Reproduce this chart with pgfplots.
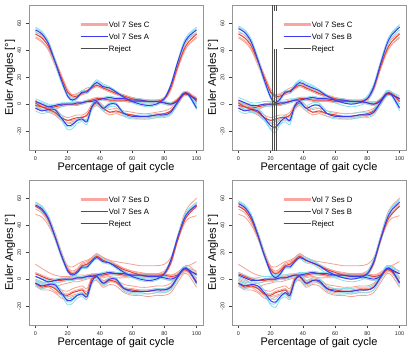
\documentclass[border=0pt]{standalone}
\usepackage{fontspec}
\setmainfont{Liberation Sans}
\usepackage{pgfplots}
\usepackage{pgfplotstable}
\pgfplotsset{compat=1.18}

\definecolor{meanred}{RGB}{235,62,48}
\definecolor{meanblue}{RGB}{58,58,240}
\definecolor{trialred}{RGB}{246,160,145}
\definecolor{trialcyan}{RGB}{135,222,235}
\definecolor{legred}{RGB}{250,165,160}
\definecolor{rejectgray}{RGB}{75,75,75}
\definecolor{boxgray}{RGB}{150,150,150}

% Session A (blue)
\pgfplotstableread{
x f m l f1 f2 f3 m1 m2 m3 l1 l2 l3
0 55 2 -3 57 54 56 4 0 2 -1 -5 -2
4 52 0 -5 54 50 53 2 -2 1 -3 -7 -4
8 45 -2 -4 47 43 46 0 -4 -1 -2 -6 -5
12 32 -1 -4 34 30 33 0 -3 -2 -3 -6 -5
16 18 0 -10 19 16 20 1 -2 0 -8 -12 -11
20 6 0 -16 6 5 8 1 -1 1 -14 -19 -17
23 3 0 -15 3 2 4 1 -1 1 -14 -18 -16
26 5 1 -12 5 4 6 2 0 2 -11 -14 -12
29 9 1 -11 10 8 10 2 0 1 -10 -13 -12
32 9 2 -13 10 8 9 3 1 2 -12 -15 -11
35 13 2 -2 14 12 13 3 1 3 -1 -4 -2
38 16 3 2 18 15 17 4 2 3 3 0 1
42 13 4 -3 15 12 14 5 3 4 -2 -5 -4
46 12 5 0 13 11 12 6 4 4 1 -2 -1
50 9 4 0 10 8 9 5 3 4 1 -2 0
55 5 4 -7 6 4 5 5 3 4 -6 -9 -8
60 2 3 -9 3 1 2 4 2 4 -8 -11 -10
65 0 3 -9 1 -1 1 4 2 3 -8 -11 -10
70 -1 2 -9 0 -2 -1 3 1 3 -8 -11 -9
75 0 2 -8 1 -1 0 3 1 2 -7 -10 -9
80 4 1 -8 5 3 4 2 0 2 -7 -10 -9
84 14 0 -6 15 13 14 1 -1 1 -5 -8 -7
88 30 2 1 31 28 30 3 1 3 2 -1 0
92 44 8 8 46 42 45 9 7 9 9 7 8
95 50 7 7 52 49 51 8 6 7 8 6 7
100 55 -3 3 57 53 56 -1 -4 -2 4 1 3
}\tA

% Session B (blue)
\pgfplotstableread{
x f m l f1 f2 f3 m1 m2 m3 l1 l2 l3
0 56 3 -3 58 54 57 5 1 2 -1 -5 -2
4 53 1 -5 55 51 54 3 -1 1 -3 -7 -4
8 46 -1 -4 48 44 47 1 -3 0 -2 -6 -5
12 33 -1 -5 35 31 34 1 -3 -1 -3 -7 -6
16 18 0 -10 20 16 19 2 -2 0 -8 -12 -11
20 5 0 -16 6 4 7 2 -2 1 -14 -19 -18
23 1 0 -17 2 0 3 2 -1 1 -15 -21 -18
26 4 1 -13 5 3 6 3 0 2 -11 -15 -14
29 9 1 -10 10 8 10 3 0 1 -8 -13 -11
32 9 2 -12 10 8 10 4 1 2 -10 -15 -13
35 13 3 -1 15 12 14 4 2 3 0 -3 -2
38 16 3 2 18 15 17 5 2 3 4 0 2
42 14 4 -3 16 12 15 5 3 4 -1 -5 -3
46 12 5 -1 14 11 13 6 4 5 1 -3 -1
50 10 4 -1 11 8 10 5 3 4 1 -3 0
55 6 4 -7 7 4 6 5 3 4 -5 -9 -7
60 3 3 -9 4 1 3 4 2 3 -7 -11 -9
65 1 3 -9 2 -1 1 4 2 3 -7 -11 -10
70 0 2 -9 1 -2 0 3 1 3 -7 -11 -10
75 1 2 -8 2 -1 1 3 1 2 -6 -10 -9
80 4 1 -8 6 2 5 2 0 2 -6 -10 -8
84 13 0 -6 15 11 14 2 -1 1 -4 -8 -6
88 29 2 1 31 27 30 3 1 3 3 -1 1
92 44 8 8 46 42 45 10 6 9 10 6 8
95 51 7 7 53 49 52 9 6 8 9 6 7
100 57 -3 4 59 55 58 0 -5 -2 6 2 4
}\tB

% Session C (red)
\pgfplotstableread{
x f m l f1 f2 f3 m1 m2 m3 l1 l2 l3
0 52 1 -1 50 53 49 3 -1 2 1 -3 0
4 49 -2 -2 47 51 46 0 -4 -1 0 -4 -2
8 43 -3 -4 41 45 40 -1 -5 -2 -2 -6 -5
12 32 -2 -6 31 34 29 -1 -4 -1 -4 -8 -7
16 20 -1 -10 19 22 18 0 -2 0 -8 -12 -11
20 9 0 -12 9 11 8 1 -1 0 -10 -14 -12
23 6 0 -11 7 7 5 1 -1 0 -9 -13 -12
26 6 0 -10 8 7 5 1 -1 1 -8 -12 -11
29 8 1 -10 10 9 7 2 0 2 -8 -12 -9
32 10 2 -8 12 10 8 3 1 2 -6 -11 -9
35 12 3 -2 13 13 11 4 2 3 0 -4 -3
38 14 4 1 15 15 13 5 3 4 3 -1 0
42 12 4 -3 13 13 11 5 3 4 -1 -5 -3
46 10 3 -6 11 11 9 4 2 3 -4 -8 -6
50 8 3 -5 9 8 7 4 2 3 -3 -7 -6
55 6 3 -7 7 6 5 4 2 3 -5 -9 -7
60 4 2 -8 5 4 3 3 1 2 -6 -10 -8
65 3 2 -9 4 3 2 3 1 2 -7 -11 -10
70 2 2 -9 3 2 1 3 1 2 -7 -11 -10
75 2 2 -8 3 2 1 3 1 2 -6 -10 -9
80 4 1 -7 5 4 3 2 0 1 -5 -9 -8
84 12 0 -5 12 13 10 1 -1 0 -3 -7 -6
88 27 3 1 26 28 25 4 2 3 3 -1 0
92 40 8 7 38 42 38 9 7 8 9 6 7
95 46 8 7 44 48 44 9 7 8 8 6 7
100 52 2 4 50 53 49 4 0 3 5 2 3
}\tC

% Session D (red)
\pgfplotstableread{
x f m l f1 f2 f3 f4 m1 m2 m3 m4 l1 l2 l3 l4
0 54 4 -3 48 57 52 55 11 2 5 -1 0 -5 -2 -4
4 51 2 -6 46 54 49 52 8 0 3 -3 -2 -8 -5 -7
8 44 0 -5 40 47 42 45 5 -3 1 -5 -3 -8 -4 -6
12 32 -1 -7 30 35 31 33 3 -3 0 -6 -5 -10 -6 -9
16 18 -1 -11 18 21 18 19 2 -2 0 -4 -8 -14 -10 -12
20 7 0 -12 10 9 8 7 2 -1 1 -3 -9 -15 -11 -13
23 4 0 -10 9 6 5 3 2 -1 1 -2 -7 -13 -9 -12
26 6 1 -9 11 8 7 5 3 0 2 -2 -6 -12 -8 -11
29 10 1 -8 13 12 11 9 3 0 2 -1 -5 -11 -7 -10
32 11 2 -11 14 13 12 10 3 1 3 0 -7 -14 -9 -13
35 14 3 0 16 16 15 13 4 2 3 1 2 -3 1 -1
38 17 3 2 18 19 18 16 4 2 4 1 4 -1 3 1
42 14 3 -3 16 16 16 13 4 2 4 1 -1 -6 -2 -4
46 12 4 -1 14 14 13 12 5 3 5 2 1 -4 0 -2
50 10 4 -2 13 11 11 9 5 3 5 1 0 -5 -1 -3
55 7 3 -7 12 8 8 6 4 2 4 1 -4 -10 -6 -8
60 5 3 -8 11 6 6 3 4 2 4 1 -5 -12 -7 -10
65 3 3 -9 10 4 5 2 4 2 4 1 -6 -12 -8 -10
70 2 3 -9 10 3 4 1 4 2 4 1 -6 -13 -8 -11
75 2 3 -8 10 3 4 1 4 2 4 1 -5 -12 -7 -10
80 4 3 -8 11 5 6 3 4 2 4 0 -5 -12 -7 -10
84 12 2 -6 16 14 14 11 3 1 3 -1 -3 -10 -5 -8
88 28 3 1 28 31 29 27 5 2 4 1 3 -3 2 0
92 42 7 7 40 47 43 42 9 6 8 5 9 4 8 6
95 48 6 6 45 54 49 49 10 6 8 5 10 3 7 5
100 54 4 -2 47 60 54 56 13 1 6 -3 5 -6 0 -3
}\tD

\pgfplotsset{
  panelstyle/.style={
    width=174bp, height=145bp, scale only axis, anchor=north west,
    xmin=-4, xmax=104, ymin=-34, ymax=73.5,
    xtick={0,20,40,60,80,100}, ytick={-20,0,20,40,60},
    minor tick num=0,
    axis line style={boxgray, line width=0.8bp},
    tick align=outside, tick pos=left,
    major tick length=3bp,
    every tick/.style={black!75, line width=0.5bp},
    /pgf/number format/assume math mode=true,
    ticklabel style={font=\fontsize{5.5}{6.5}\selectfont, text=black!85, inner sep=0pt},
    xticklabel style={anchor=north},
    xticklabel shift=3.5bp,
    yticklabel style={rotate=90, anchor=south},
    yticklabel shift=4.5bp,
    xlabel={Percentage of gait cycle},
    ylabel={Euler Angles [°]},
    every axis x label/.style={at={(axis description cs:0.5,-0.122)}, anchor=center, font=\fontsize{11}{13}\selectfont},
    every axis y label/.style={at={(axis description cs:-0.109,0.5)}, rotate=90, anchor=center, font=\fontsize{11}{13}\selectfont},
    legend cell align=left,
    legend style={draw=none, fill=none, inner sep=0pt, at={(0.287,0.891)}, anchor=north west,
      font=\fontsize{7.8}{9}\selectfont, row sep=4.5bp,
      nodes={inner sep=0pt, text height=6bp, text depth=1.5bp}},
  },
  legend image code/.code={\draw[#1] (0bp,0bp) -- (18bp,0bp); \path (0bp,0bp) -- (27bp,0bp);},
  trialR/.style={trialred, line width=0.8bp, smooth, no markers, forget plot},
  trialC/.style={trialcyan, line width=0.8bp, smooth, no markers, forget plot},
  meanR/.style={meanred, line width=1bp, smooth, no markers, forget plot},
  meanB/.style={meanblue, line width=1bp, smooth, no markers, forget plot},
}

% #1 position, #2 red table, #3 red trial columns, #4 blue table, #5 red session, #6 blue session, #7 extra plots
\newcommand{\panel}[7]{%
\begin{axis}[panelstyle, at={#1}]
\addlegendimage{legred, line width=2.8bp}\addlegendentry{Vol 7 Ses #5}
\addlegendimage{meanblue, line width=0.9bp}\addlegendentry{Vol 7 Ses #6}
\addlegendimage{rejectgray, line width=0.7bp}\addlegendentry{Reject}
\pgfplotsinvokeforeach{#3}{\addplot[trialR] table[x=x,y=##1]{#2};}
\pgfplotsinvokeforeach{f1,f2,f3,m1,m2,m3,l1,l2,l3}{\addplot[trialC] table[x=x,y=##1]{#4};}
\pgfplotsinvokeforeach{f,m,l}{\addplot[meanR] table[x=x,y=##1]{#2};}
\pgfplotsinvokeforeach{f,m,l}{\addplot[meanB] table[x=x,y=##1]{#4};}
#7
\end{axis}}

\begin{document}
\begin{tikzpicture}
\useasboundingbox (0,0) rectangle (415bp,-351bp);
\panel{(29bp,-5bp)}{\tC}{f1,f2,f3,m1,m2,m3,l1,l2,l3}{\tA}{C}{A}{}
\panel{(232bp,-5bp)}{\tC}{f1,f2,f3,m1,m2,m3,l1,l2,l3}{\tB}{C}{B}{%
  \addplot[rejectgray, line width=0.7bp, forget plot] coordinates {(21.3,80) (21.3,-40)};
  \addplot[rejectgray, line width=0.7bp, forget plot] coordinates {(22.5,80) (22.5,69)};
  \addplot[rejectgray, line width=0.7bp, forget plot] coordinates {(22.5,41) (22.5,-40)};
  \addplot[rejectgray, line width=0.7bp, forget plot] coordinates {(23.5,80) (23.5,69)};
  \addplot[rejectgray, line width=0.7bp, forget plot] coordinates {(23.5,41) (23.5,-40)};
}
\panel{(29bp,-180bp)}{\tD}{f1,f2,f3,f4,m1,m2,m3,m4,l1,l2,l3,l4}{\tA}{D}{A}{}
\panel{(232bp,-180bp)}{\tD}{f1,f2,f3,f4,m1,m2,m3,m4,l1,l2,l3,l4}{\tB}{D}{B}{}
\end{tikzpicture}
\end{document}
